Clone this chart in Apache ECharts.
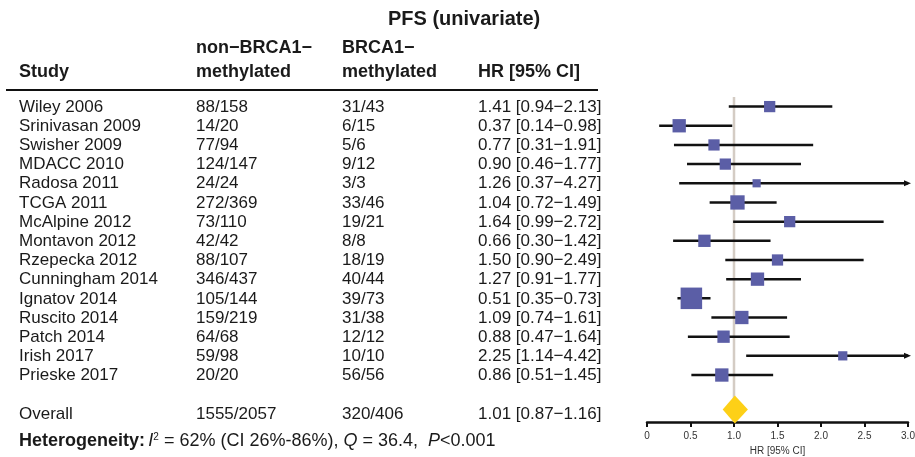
<!DOCTYPE html>
<html><head><meta charset="utf-8">
<script src="https://cdn.jsdelivr.net/npm/echarts@6/dist/echarts.min.js"></script>
<style>html,body{margin:0;padding:0;background:#fff}#c{width:915px;height:457px}</style>
</head><body><div id="c"></div>
<script>
// ---- data ----
const studies = ['Wiley 2006','Srinivasan 2009','Swisher 2009','MDACC 2010','Radosa 2011','TCGA 2011','McAlpine 2012','Montavon 2012','Rzepecka 2012','Cunningham 2014','Ignatov 2014','Ruscito 2014','Patch 2014','Irish 2017','Prieske 2017'];
const nonMethylated = ['88/158','14/20','77/94','124/147','24/24','272/369','73/110','42/42','88/107','346/437','105/144','159/219','64/68','59/98','20/20'];
const methylated = ['31/43','6/15','5/6','9/12','3/3','33/46','19/21','8/8','18/19','40/44','39/73','31/38','12/12','10/10','56/56'];
const hr = [1.41,0.37,0.77,0.90,1.26,1.04,1.64,0.66,1.50,1.27,0.51,1.09,0.88,2.25,0.86];
const ciLow = [0.94,0.14,0.31,0.46,0.37,0.72,0.99,0.30,0.90,0.91,0.35,0.74,0.47,1.14,0.51];
const ciHigh = [2.13,0.98,1.91,1.77,4.27,1.49,2.72,1.42,2.49,1.77,0.73,1.61,1.64,4.42,1.45];
const weights = [5.5,7.7,5.5,5.5,2.9,8.9,5.5,6.6,5.5,7.7,20.1,7.7,6.6,3.7,7.7];
const overall = {label:'Overall', nonMethylated:'1555/2057', methylated:'320/406', hr:1.01, low:0.87, high:1.16};
const xTicks = [0,0.5,1.0,1.5,2.0,2.5,3.0];
const columnHeaders = ['Study','non\u2212BRCA1\u2212\nmethylated','BRCA1\u2212\nmethylated','HR [95% CI]'];
const title = 'PFS (univariate)';
const axisName = 'HR [95% CI]';

// ---- layout / style ----
const FONT = '"Liberation Sans", Arial, Helvetica, sans-serif';
const colX = [19, 196, 342, 478];
const XMAX = xTicks[xTicks.length-1];
const OVERALL_ROW = 16;
const fmt = (h,l,u) => `${h.toFixed(2)} [${l.toFixed(2)}\u2212${u.toFixed(2)}]`;

const tableRows = studies.map((s,i)=>({row:i, cells:[s, nonMethylated[i], methylated[i], fmt(hr[i],ciLow[i],ciHigh[i])]}));
tableRows.push({row:OVERALL_ROW, cells:[overall.label, overall.nonMethylated, overall.methylated, fmt(overall.hr,overall.low,overall.high)]});

const chart = echarts.init(document.getElementById('c'), null, {renderer:'canvas'});

const option = {
  animation:false,
  backgroundColor:'#fff',
  grid:{left:647, right:7, top:97, bottom:35, containLabel:false, outerBoundsMode:'none'},
  xAxis:{
    type:'value', min:xTicks[0], max:XMAX, interval:0.5,
    axisLine:{show:true, onZero:false, lineStyle:{color:'#111', width:2.5}},
    axisTick:{show:true, inside:false, length:5, lineStyle:{color:'#111', width:2}},
    axisLabel:{fontSize:10, color:'#333', margin:9, fontFamily:FONT,
      formatter:v => v===0 ? '0' : v.toFixed(1)},
    splitLine:{show:false},
    name:axisName, nameLocation:'middle', nameGap:23,
    nameTextStyle:{fontSize:10, color:'#333', fontFamily:FONT}
  },
  yAxis:{type:'value', min:-0.5, max:16.45, inverse:true, show:false},
  series:[
    { // reference line at HR = 1
      type:'custom', clip:false, silent:true, z:1,
      data:[[1]],
      encode:{x:0},
      renderItem:(params, api)=>{
        const a = api.coord([api.value(0), -0.5]);
        const b = api.coord([api.value(0), 16.45]);
        return {type:'line', shape:{x1:a[0], y1:a[1], x2:b[0], y2:b[1]},
          style:{stroke:'#d4ccc4', lineWidth:2.5}};
      }
    },
    { // study CIs and boxes
      type:'custom', clip:false, silent:true, z:3,
      data: studies.map((s,i)=>[ciLow[i], Math.min(ciHigh[i], XMAX), hr[i], i, weights[i], ciHigh[i] > XMAX ? 1 : 0]),
      encode:{x:[0,1,2], y:3},
      renderItem:(params, api)=>{
        const row = api.value(3);
        const p1 = api.coord([api.value(0), row]);
        const p2 = api.coord([api.value(1), row]);
        const pc = api.coord([api.value(2), row]);
        const s = Math.sqrt(api.value(4))*4.8;
        const children = [
          {type:'line', shape:{x1:p1[0], y1:p1[1], x2:p2[0], y2:p2[1]}, style:{stroke:'#111', lineWidth:2.5}}
        ];
        if (api.value(5)) {
          children.push({type:'polygon', shape:{points:[[p2[0]+3,p2[1]],[p2[0]-4,p2[1]-3],[p2[0]-4,p2[1]+3]]}, style:{fill:'#111'}});
        }
        children.push({type:'rect', shape:{x:pc[0]-s/2, y:pc[1]-s/2, width:s, height:s}, style:{fill:'#5B5EA6'}});
        return {type:'group', children};
      }
    },
    { // overall diamond
      type:'custom', clip:false, silent:true, z:3,
      data:[[overall.low, overall.high, overall.hr, OVERALL_ROW-0.2]],
      encode:{x:[0,1,2], y:3},
      renderItem:(params, api)=>{
        const row = api.value(3);
        const l = api.coord([api.value(0), row]);
        const h = api.coord([api.value(1), row]);
        const c = api.coord([api.value(2), row]);
        const hh = 14;
        return {type:'polygon', shape:{points:[[l[0],l[1]],[c[0],c[1]-hh],[h[0],h[1]],[c[0],c[1]+hh]]},
          style:{fill:'#FDD017'}};
      }
    },
    { // table text
      type:'custom', clip:false, silent:true, z:5,
      data: tableRows.map(r=>[0, r.row]),
      encode:{x:0, y:1},
      renderItem:(params, api)=>{
        const r = tableRows[params.dataIndex];
        const y = api.coord([0, api.value(1)])[1] + 0.5;
        return {type:'group', children: r.cells.map((t,k)=>({
          type:'text', x:colX[k], y:y,
          style:{text:t, fill:'#1a1a1a', font:`17px ${FONT}`, align:'left', verticalAlign:'middle'}
        }))};
      }
    }
  ],
  graphic:[
    {type:'text', left:388, top:9, style:{text:title, fill:'#1a1a1a', font:`bold 20px ${FONT}`}},
    ...columnHeaders.map((h,k)=>({
      type:'text', x:colX[k], y:84,
      style:{text:h, fill:'#1a1a1a', font:`bold 18px ${FONT}`, align:'left', verticalAlign:'bottom', lineHeight:24}
    })),
    {type:'line', shape:{x1:6, y1:90, x2:598, y2:90}, style:{stroke:'#111', lineWidth:2}},
    {type:'text', x:19, y:441,
      style:{
        text:'{b|Heterogeneity:} {i|I}{sup|2}{n| = 62% (CI 26%-86%), }{i|Q}{n| = 36.4,  }{i|P}{n|<0.001}',
        verticalAlign:'middle', align:'left',
        rich:{
          b:{font:`bold 18px ${FONT}`, fill:'#1a1a1a'},
          i:{font:`italic 18px ${FONT}`, fill:'#1a1a1a'},
          n:{font:`18px ${FONT}`, fill:'#1a1a1a'},
          sup:{font:`10px ${FONT}`, fill:'#1a1a1a', padding:[0,0,8,0]}
        }
      }}
  ]
};
chart.setOption(option);
</script>
</body></html>
